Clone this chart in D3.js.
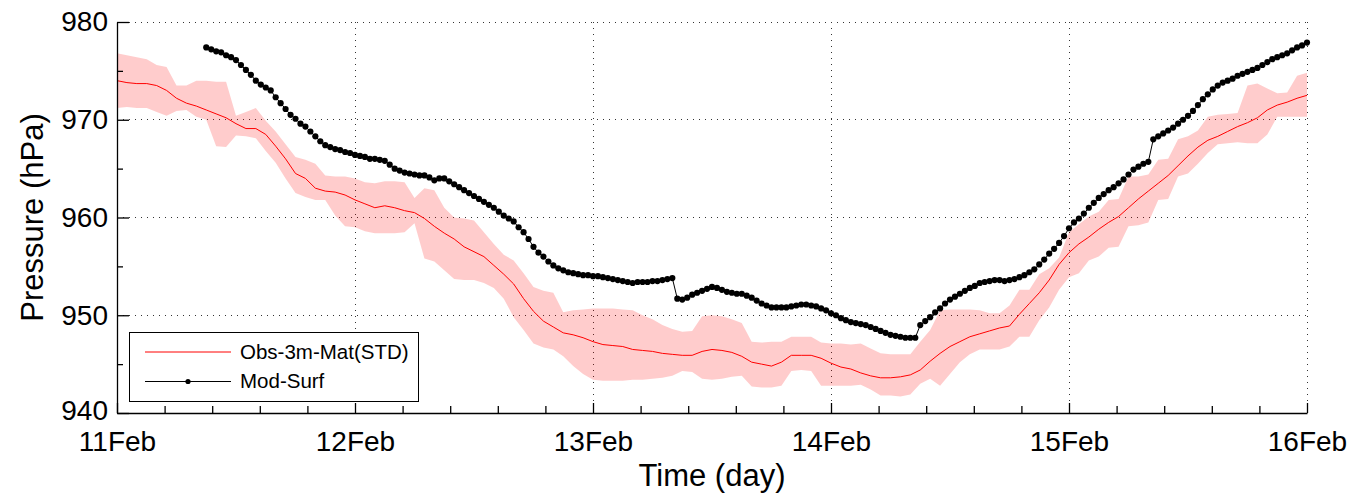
<!DOCTYPE html>
<html>
<head>
<meta charset="utf-8">
<script src="https://cdn.jsdelivr.net/npm/d3@7"></script>
<style>
  body { margin: 0; background: #fff; }
  text { font-family: "Liberation Sans", Arial, sans-serif; fill: #000; }
</style>
</head>
<body>
<div id="container"></div>
<script>
/* DATA */
// observed, hourly from 11Feb 00:00
const obsStartDay = 11;
const obsMean = [
  974.0, 973.8, 973.7, 973.7, 973.5, 973.0, 972.2, 971.7, 971.4, 971.0, 970.6, 970.2,
  969.6, 969.1, 969.1, 968.5, 967.3, 966.0, 964.5, 964.0, 963.0, 962.7, 962.6, 962.3,
  961.8, 961.4, 961.0, 961.2, 961.0, 960.7, 960.5, 959.9, 959.1, 958.4, 957.8, 957.0,
  956.5, 956.0, 955.1, 954.2, 953.2, 951.7, 950.4, 949.4, 948.8, 948.2, 948.0, 947.7,
  947.3, 947.0, 946.9, 946.8, 946.5, 946.4, 946.3, 946.1, 946.0, 945.9, 945.9, 946.3,
  946.5, 946.4, 946.2, 945.8, 945.2, 945.0, 944.8, 945.2, 945.9, 945.9, 945.9, 945.6,
  945.1, 944.7, 944.5, 944.1, 943.8, 943.6, 943.6, 943.7, 943.9, 944.4, 945.3, 946.1,
  946.8, 947.3, 947.8, 948.1, 948.4, 948.7, 948.9, 950.1, 951.2, 952.3, 953.6, 955.2,
  956.4, 957.3, 958.0, 958.8, 959.5, 960.1, 961.0, 961.9, 962.7, 963.5, 964.3, 965.3,
  966.3, 967.2, 967.9, 968.3, 968.8, 969.3, 969.7, 970.2, 971.0, 971.5, 971.8, 972.2,
  972.5
];
const obsUpper = [
  976.8, 976.6, 976.4, 976.2, 975.6, 975.4, 973.5, 973.5, 974.0, 974.0, 973.9, 973.9,
  970.4, 970.8, 971.2, 969.9, 968.8, 967.5, 966.2, 965.9, 965.5, 964.3, 964.2, 964.2,
  964.0, 963.6, 963.5, 963.7, 963.7, 963.6, 962.0, 963.0, 962.8, 961.0, 960.0, 959.9,
  959.7, 958.5, 957.3, 956.2, 955.6, 954.3, 952.9, 952.5, 952.3, 950.3, 950.5, 950.6,
  950.7, 950.7, 950.7, 950.6, 950.5, 950.0, 949.6, 949.0, 948.6, 948.3, 948.4, 949.9,
  950.0, 949.9, 949.6, 949.2, 947.3, 947.2, 947.3, 947.3, 947.8, 947.8, 947.8, 947.2,
  947.1, 947.1, 947.0, 947.1, 946.6, 946.1, 946.0, 946.0, 946.0, 947.3, 948.5, 950.5,
  950.6, 950.6, 950.6, 950.5, 950.2, 950.2, 951.0, 952.6, 952.6, 954.2, 954.8, 955.9,
  958.5, 959.3, 960.1, 960.6, 961.8, 961.9, 964.2, 964.2, 964.4, 965.9, 966.0, 968.0,
  968.3, 968.9, 970.3, 970.5, 970.6, 970.7, 973.5, 973.7, 973.2, 972.7, 972.8, 974.5,
  974.8
];
const obsLower = [
  971.2, 971.3, 971.2, 971.2, 970.8, 970.4, 970.9, 971.0, 970.3, 970.0, 967.3, 967.2,
  968.4, 968.3, 968.1, 966.8, 965.6, 964.0, 962.5, 962.1, 961.8, 961.8, 960.2, 959.1,
  959.0, 958.6, 958.4, 958.4, 958.4, 958.5, 959.4, 955.8, 955.5, 954.6, 953.7, 953.6,
  953.6, 953.3, 952.8, 951.7, 949.8, 948.5, 947.1, 946.7, 946.5, 945.8, 944.8, 944.0,
  943.4, 943.3, 943.3, 943.3, 943.4, 943.4, 943.5, 943.6, 943.8, 944.3, 944.2, 943.5,
  943.4, 943.5, 943.7, 943.8, 942.7, 942.6, 942.6, 942.8, 944.3, 944.4, 944.3, 942.8,
  942.8, 942.8, 942.8, 942.9, 942.4, 941.8, 941.8, 941.7, 941.9, 943.0, 943.5, 942.8,
  944.0, 945.2, 946.0, 946.5, 946.5, 946.5, 946.8, 947.8, 947.8, 949.5, 950.8, 952.6,
  953.9, 954.3, 955.6, 956.0, 956.9, 957.0, 959.1, 959.2, 959.5, 961.8, 961.9, 964.2,
  964.5, 965.5, 966.6, 967.5, 967.6, 967.7, 967.6, 967.6, 968.5, 970.3, 970.3, 970.3,
  970.3
];

// model, every 30 min from 11Feb 09:00 to 16Feb 00:00
const modStartDay = 11.375;
const modPressure = [
  977.4, 977.2, 977.0, 976.9, 976.6, 976.4,
  976.1, 975.6, 975.1, 974.6, 974.0, 973.6, 973.3, 973.0, 972.3, 971.7, 971.1, 970.5,
  970.1, 969.6, 969.3, 968.8, 968.3, 967.8, 967.4, 967.2, 967.0, 966.9, 966.7, 966.6,
  966.4, 966.3, 966.2, 966.0, 966.0, 965.9, 965.8, 965.4, 965.0, 964.8, 964.6, 964.5,
  964.4, 964.3, 964.3, 964.1, 963.8, 964.0, 964.0, 963.7, 963.4, 963.1, 962.8, 962.5,
  962.2, 961.9, 961.6, 961.3, 961.0, 960.6, 960.2, 959.9, 959.6, 959.0, 958.5, 957.8,
  957.0, 956.4, 956.0, 955.5, 955.1, 954.8, 954.6, 954.4, 954.3, 954.2, 954.1, 954.1,
  954.0, 954.0, 953.9, 953.8, 953.7, 953.6, 953.5, 953.4, 953.3, 953.4, 953.4, 953.4,
  953.5, 953.5, 953.6, 953.7, 953.8, 951.7, 951.6, 951.8, 952.1, 952.3, 952.5, 952.7,
  952.9, 952.8, 952.6, 952.4, 952.3, 952.2, 952.2, 952.0, 951.8, 951.5, 951.2, 951.0,
  950.8, 950.8, 950.8, 950.8, 950.9, 951.0, 951.1, 951.1, 951.0, 950.9, 950.7, 950.5,
  950.2, 950.0, 949.7, 949.5, 949.3, 949.2, 949.1, 949.0, 948.8, 948.6, 948.4, 948.2,
  948.0, 947.9, 947.8, 947.7, 947.7, 947.7, 949.0, 949.4, 949.8, 950.3, 950.7, 951.2,
  951.6, 951.9, 952.2, 952.5, 952.8, 953.0, 953.3, 953.4, 953.5, 953.6, 953.6, 953.5,
  953.6, 953.7, 953.9, 954.1, 954.4, 954.7, 955.2, 955.7, 956.3, 956.8, 957.4, 958.1,
  958.9, 959.5, 959.9, 960.4, 961.0, 961.5, 962.0, 962.4, 962.8, 963.1, 963.5, 963.9,
  964.4, 964.9, 965.2, 965.5, 965.7, 968.0, 968.3, 968.6, 968.9, 969.2, 969.6, 970.0,
  970.4, 970.9, 971.5, 972.1, 972.6, 973.1, 973.5, 973.8, 974.0, 974.2, 974.5, 974.7,
  974.9, 975.1, 975.3, 975.6, 975.9, 976.2, 976.4, 976.6, 976.8, 977.1, 977.4, 977.6,
  977.9
];

// axes
const xTickDays = [11, 12, 13, 14, 15, 16];
const xTickLabels = ["11Feb", "12Feb", "13Feb", "14Feb", "15Feb", "16Feb"];
const yTicks = [940, 950, 960, 970, 980];
const yMinorTicks = [945, 955, 965, 975];
const legendLabels = ["Obs-3m-Mat(STD)", "Mod-Surf"];

/* CONSTANTS */
const width = 1361,
      height = 496,
      margin = {top: 22, left: 117, bottom: 83, right: 54};

const obs = obsMean.map((m, i) => ({day: obsStartDay + i / 24, mean: m, hi: obsUpper[i], lo: obsLower[i]}));
const mod = modPressure.map((p, i) => ({day: modStartDay + i / 48, p: p}));

/* SCALES */
const xScale = d3.scaleLinear()
  .domain([11, 16])
  .range([margin.left, width - margin.right]);

const yScale = d3.scaleLinear()
  .domain([940, 980])
  .range([height - margin.bottom, margin.top]);

const xMinor = d3.range(0, 26).map(i => 11 + i * 0.2).filter(d => Math.abs(d - Math.round(d)) > 1e-6);

/* SVG */
const svg = d3.select("#container")
  .append("svg")
  .attr("width", width)
  .attr("height", height);

// dotted grid
const grid = svg.append("g")
  .attr("stroke", "#333")
  .attr("stroke-width", 1)
  .attr("stroke-dasharray", "1,5")
  .attr("shape-rendering", "crispEdges");

grid.selectAll(".hgrid")
  .data(yTicks.slice(1))
  .join("line")
  .attr("x1", xScale(11)).attr("x2", xScale(16))
  .attr("y1", d => yScale(d)).attr("y2", d => yScale(d));

grid.selectAll(".vgrid")
  .data(xTickDays.slice(1))
  .join("line")
  .attr("x1", d => xScale(d)).attr("x2", d => xScale(d))
  .attr("y1", yScale(940)).attr("y2", yScale(980));

// std band
svg.append("path")
  .datum(obs)
  .attr("fill", "red")
  .attr("fill-opacity", 0.2)
  .attr("d", d3.area()
    .x(d => xScale(d.day))
    .y0(d => yScale(d.lo))
    .y1(d => yScale(d.hi)));

// obs mean
svg.append("path")
  .datum(obs)
  .attr("fill", "none")
  .attr("stroke", "#ff0000")
  .attr("stroke-width", 1)
  .attr("d", d3.line().x(d => xScale(d.day)).y(d => yScale(d.mean)));

// model
svg.append("path")
  .datum(mod)
  .attr("fill", "none")
  .attr("stroke", "#000")
  .attr("stroke-width", 1)
  .attr("d", d3.line().x(d => xScale(d.day)).y(d => yScale(d.p)));

svg.selectAll(".dot")
  .data(mod)
  .join("circle")
  .attr("class", "dot")
  .attr("cx", d => xScale(d.day))
  .attr("cy", d => yScale(d.p))
  .attr("r", 3.1)
  .attr("fill", "#000");

/* AXES */
const font = "28px";

const yAxis = svg.append("g")
  .attr("transform", `translate(${margin.left},0)`)
  .call(d3.axisLeft(yScale)
    .tickValues(yTicks)
    .tickSizeInner(-12)
    .tickSizeOuter(0)
    .tickPadding(9)
    .tickFormat(d3.format("d")));
yAxis.selectAll("text").style("font-size", font);
// keep the lowest label clear of the first date label
yAxis.selectAll("text").filter(d => d === 940).attr("dy", "0.22em");

svg.append("g")
  .attr("transform", `translate(${margin.left},0)`)
  .call(d3.axisLeft(yScale)
    .tickValues(yMinorTicks)
    .tickSizeInner(-6)
    .tickSizeOuter(0)
    .tickFormat(""))
  .call(g => g.select(".domain").remove());

const xAxis = svg.append("g")
  .attr("transform", `translate(0,${height - margin.bottom})`)
  .call(d3.axisBottom(xScale)
    .tickValues(xTickDays)
    .tickSizeInner(-10)
    .tickSizeOuter(0)
    .tickPadding(18)
    .tickFormat((d, i) => xTickLabels[i]));
xAxis.selectAll("text").style("font-size", font);

svg.append("g")
  .attr("transform", `translate(0,${height - margin.bottom})`)
  .call(d3.axisBottom(xScale)
    .tickValues(xMinor)
    .tickSizeInner(-7)
    .tickSizeOuter(0)
    .tickFormat(""))
  .call(g => g.select(".domain").remove());

svg.selectAll(".domain, .tick line")
  .attr("stroke", "#000")
  .attr("stroke-width", 1.3);

// axis titles
svg.append("text")
  .attr("x", (xScale(11) + xScale(16)) / 2)
  .attr("y", 486)
  .attr("text-anchor", "middle")
  .style("font-size", "31px")
  .text("Time (day)");

svg.append("text")
  .attr("transform", `translate(43,${(yScale(940) + yScale(980)) / 2}) rotate(-90)`)
  .attr("text-anchor", "middle")
  .style("font-size", "31px")
  .text("Pressure (hPa)");

/* LEGEND */
const legend = svg.append("g");
legend.append("rect")
  .attr("x", 129.5).attr("y", 332.5)
  .attr("width", 289).attr("height", 69)
  .attr("fill", "#fff")
  .attr("stroke", "#000")
  .attr("stroke-width", 1);

legend.append("line")
  .attr("x1", 145).attr("x2", 231).attr("y1", 352).attr("y2", 352)
  .attr("stroke", "#ff0000").attr("stroke-width", 1);
legend.append("line")
  .attr("x1", 145).attr("x2", 231).attr("y1", 381.5).attr("y2", 381.5)
  .attr("stroke", "#000").attr("stroke-width", 1);
legend.append("circle")
  .attr("cx", 188).attr("cy", 381.5).attr("r", 2.6).attr("fill", "#000");

legend.selectAll(".ltext")
  .data(legendLabels)
  .join("text")
  .attr("x", 240)
  .attr("y", (d, i) => 359 + i * 29)
  .style("font-size", "20.5px")
  .text(d => d);
</script>
</body>
</html>
